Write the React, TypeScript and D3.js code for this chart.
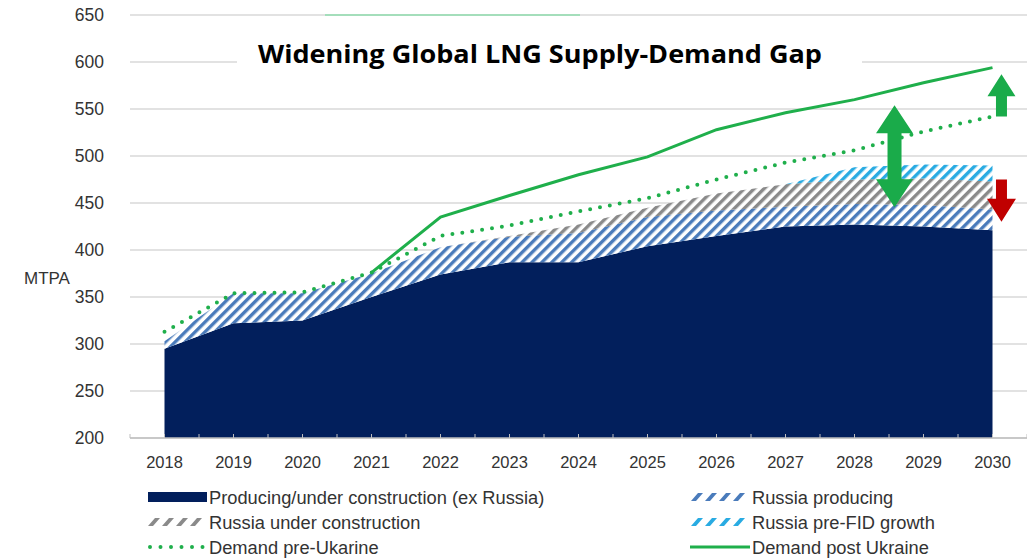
import React from "react";
import * as d3 from "d3";

// ---------- data ----------
const years = [2018, 2019, 2020, 2021, 2022, 2023, 2024, 2025, 2026, 2027, 2028, 2029, 2030];
const producingExRussia = [295, 322, 325, 350, 374, 387, 387, 404, 415, 425, 427, 425, 421];
const russiaProducing = [8, 32, 29, 25, 29, 27, 31, 31, 27, 21, 22, 23, 22];
const russiaUnderConstruction = [0, 0, 0, 0, 0, 1, 9, 10, 18, 24, 26, 28, 30];
const russiaPreFID = [0, 0, 0, 0, 0, 0, 0, 0, 0, 0, 13, 15, 17];
const demandPreUkraine = [313, 354, 355, 376, 415, 426, 441, 455, 475, 493, 506, 526, 542];
const demandPostUkraine: (number | null)[] = [null, null, null, 376, 435, 458, 480, 499, 528, 546, 560, 578, 594];
const yTicks = [200, 250, 300, 350, 400, 450, 500, 550, 600, 650];
const titleText = "Widening Global LNG Supply-Demand Gap";
const yAxisLabel = "MTPA";
const legendLabels = [
  "Producing/under construction (ex Russia)",
  "Russia producing",
  "Russia under construction",
  "Russia pre-FID growth",
  "Demand pre-Ukarine",
  "Demand post Ukraine",
];

// ---------- layout ----------
const W = 1027;
const H = 560;
const NAVY = "#021f5c";
const BLUE = "#4a7bbb";
const GRAY = "#8a8a8a";
const LIGHTBLUE = "#29abe2";
const GREEN = "#1faf4b";
const ARROW_GREEN = "#1aab4a";
const RED = "#c00000";
const TEXT = "#333333";
const FONT = "'Liberation Sans', Arial, sans-serif";

const x = d3.scaleLinear().domain([2017.5, 2030.5]).range([130, 1027]);
const y = d3.scaleLinear().domain([200, 650]).range([438, 15]);

const stackKeys = ["producing", "russiaProducing", "russiaUnderConstruction", "russiaPreFID"];
const table = years.map((yr, i) => ({
  year: yr,
  producing: producingExRussia[i],
  russiaProducing: russiaProducing[i],
  russiaUnderConstruction: russiaUnderConstruction[i],
  russiaPreFID: russiaPreFID[i],
}));
const stacked = d3.stack<any>().keys(stackKeys)(table);
const fills = [NAVY, "url(#hatchBlue)", "url(#hatchGray)", "url(#hatchLight)"];

const areaGen = d3
  .area<any>()
  .x((d) => x(d.data.year))
  .y0((d) => y(Math.max(d[0], 200)))
  .y1((d) => y(d[1]));

const lineGen = d3
  .line<[number, number | null]>()
  .defined((d) => d[1] != null)
  .x((d) => x(d[0]))
  .y((d) => y(d[1] as number));

function arrowPath(cx: number, yTip: number, yBase: number, headW: number, headL: number, shaftW: number) {
  const dir = yBase > yTip ? 1 : -1;
  const hb = yTip + dir * headL;
  return [
    [cx, yTip],
    [cx + headW / 2, hb],
    [cx + shaftW / 2, hb],
    [cx + shaftW / 2, yBase],
    [cx - shaftW / 2, yBase],
    [cx - shaftW / 2, hb],
    [cx - headW / 2, hb],
  ]
    .map((p, i) => (i ? "L" : "M") + p[0] + "," + p[1])
    .join("") + "Z";
}

function doubleArrowPath(cx: number, yTop: number, yBot: number, headW: number, headL: number, shaftW: number) {
  const a = yTop + headL;
  const b = yBot - headL;
  return [
    [cx, yTop],
    [cx + headW / 2, a],
    [cx + shaftW / 2, a],
    [cx + shaftW / 2, b],
    [cx + headW / 2, b],
    [cx, yBot],
    [cx - headW / 2, b],
    [cx - shaftW / 2, b],
    [cx - shaftW / 2, a],
    [cx - headW / 2, a],
  ]
    .map((p, i) => (i ? "L" : "M") + p[0] + "," + p[1])
    .join("") + "Z";
}

function HatchSymbol({ x0, cy, color }: { x0: number; cy: number; color: string }) {
  return (
    <g>
      {[0, 1, 2, 3].map((i) => (
        <path
          key={i}
          d={`M${x0 + i * 14},${cy + 4}L${x0 + i * 14 + 5},${cy + 4}L${x0 + i * 14 + 12},${cy - 4}L${x0 + i * 14 + 7},${cy - 4}Z`}
          fill={color}
        />
      ))}
    </g>
  );
}

export default function App() {
  const xTicks = d3.range(2017.5, 2030.51, 0.5);
  const preLine = lineGen(years.map((yr, i) => [yr, demandPreUkraine[i]]));
  const postLine = lineGen(years.map((yr, i) => [yr, demandPostUkraine[i]]));

  const legendRows = [497, 522, 547];
  const leftSym = 148;
  const leftText = 209;
  const rightSym = 691;
  const rightText = 752;
  const LFS = 18.3;

  return (
    <svg
      width={W}
      height={H}
      style={{ position: "absolute", left: 0, top: 0, background: "#fff" }}
      fontFamily={FONT}
    >
      <defs>
        <pattern id="hatchBlue" patternUnits="userSpaceOnUse" width={7} height={7} patternTransform="rotate(45)">
          <rect width={7} height={7} fill="#fff" />
          <rect width={3.4} height={7} fill={BLUE} />
        </pattern>
        <pattern id="hatchGray" patternUnits="userSpaceOnUse" width={7} height={7} patternTransform="rotate(45)">
          <rect width={7} height={7} fill="#fff" />
          <rect width={3.4} height={7} fill={GRAY} />
        </pattern>
        <pattern id="hatchLight" patternUnits="userSpaceOnUse" width={7} height={7} patternTransform="rotate(45)">
          <rect width={7} height={7} fill="#fff" />
          <rect width={3.4} height={7} fill={LIGHTBLUE} />
        </pattern>
      </defs>

      {/* grid */}
      {yTicks.map((t) => (
        <line key={t} x1={130} x2={W} y1={y(t)} y2={y(t)} stroke="#d9d9d9" strokeWidth={1.5} />
      ))}

      {/* title box */}
      <rect x={237} y={17} width={625} height={75} fill="#fff" />
      <line x1={325} x2={580} y1={15} y2={15} stroke="#8fdcae" strokeWidth={1.5} />

      {/* stacked areas */}
      {stacked.map((s, i) => (
        <path key={s.key} d={areaGen(s) || ""} fill={fills[i]} />
      ))}

      {/* x axis */}
      <line x1={130} x2={W} y1={y(200)} y2={y(200)} stroke="#bfbfbf" strokeWidth={1.5} />
      {xTicks.map((t) => (
        <line key={t} x1={x(t)} x2={x(t)} y1={y(200) - 4} y2={y(200)} stroke="#bfbfbf" strokeWidth={1} />
      ))}
      {years.map((yr) => (
        <text key={yr} x={x(yr)} y={468} textAnchor="middle" fontSize={16.5} fill={TEXT}>
          {yr}
        </text>
      ))}

      {/* y axis labels */}
      {yTicks.map((t) => (
        <text key={t} x={104} y={y(t)} dy="0.36em" textAnchor="end" fontSize={17.5} fill={TEXT}>
          {t}
        </text>
      ))}
      <text x={24} y={278} dy="0.36em" fontSize={17} fill={TEXT}>
        {yAxisLabel}
      </text>

      {/* demand lines */}
      <path d={preLine || ""} fill="none" stroke={GREEN} strokeWidth={4} strokeDasharray="0 10" strokeLinecap="round" />
      <path d={postLine || ""} fill="none" stroke={GREEN} strokeWidth={3} />

      {/* arrows */}
      <path d={doubleArrowPath(x(2028.58), y(554), y(445.5), 37, 28, 14)} fill={ARROW_GREEN} />
      <path d={arrowPath(x(2030.13), y(587), y(542), 28, 22, 11)} fill={ARROW_GREEN} />
      <path d={arrowPath(x(2030.13), y(430), y(475), 29, 23, 11)} fill={RED} />

      {/* title */}
      <text
        x={540}
        y={63}
        textAnchor="middle"
        fontSize={25}
        fontWeight="bold"
        fontFamily="'Open Sans', Lato, sans-serif"
        fill="#000"
        textLength={564}
        lengthAdjust="spacingAndGlyphs"
      >
        {titleText}
      </text>

      {/* legend */}
      <rect x={leftSym} y={legendRows[0] - 5} width={59} height={10} fill={NAVY} />
      <text x={leftText} y={legendRows[0]} dy="0.36em" fontSize={LFS} fill={TEXT}>{legendLabels[0]}</text>

      <HatchSymbol x0={rightSym} cy={legendRows[0]} color={BLUE} />
      <text x={rightText} y={legendRows[0]} dy="0.36em" fontSize={LFS} fill={TEXT}>{legendLabels[1]}</text>

      <HatchSymbol x0={leftSym} cy={legendRows[1]} color={GRAY} />
      <text x={leftText} y={legendRows[1]} dy="0.36em" fontSize={LFS} fill={TEXT}>{legendLabels[2]}</text>

      <HatchSymbol x0={rightSym} cy={legendRows[1]} color={LIGHTBLUE} />
      <text x={rightText} y={legendRows[1]} dy="0.36em" fontSize={LFS} fill={TEXT}>{legendLabels[3]}</text>

      <line x1={150} x2={205} y1={legendRows[2]} y2={legendRows[2]} stroke={GREEN} strokeWidth={4} strokeDasharray="0 10.5" strokeLinecap="round" />
      <text x={leftText} y={legendRows[2]} dy="0.36em" fontSize={LFS} fill={TEXT}>{legendLabels[4]}</text>

      <line x1={rightSym - 1} x2={rightSym + 59} y1={legendRows[2]} y2={legendRows[2]} stroke={GREEN} strokeWidth={3} />
      <text x={rightText} y={legendRows[2]} dy="0.36em" fontSize={LFS} fill={TEXT}>{legendLabels[5]}</text>
    </svg>
  );
}
